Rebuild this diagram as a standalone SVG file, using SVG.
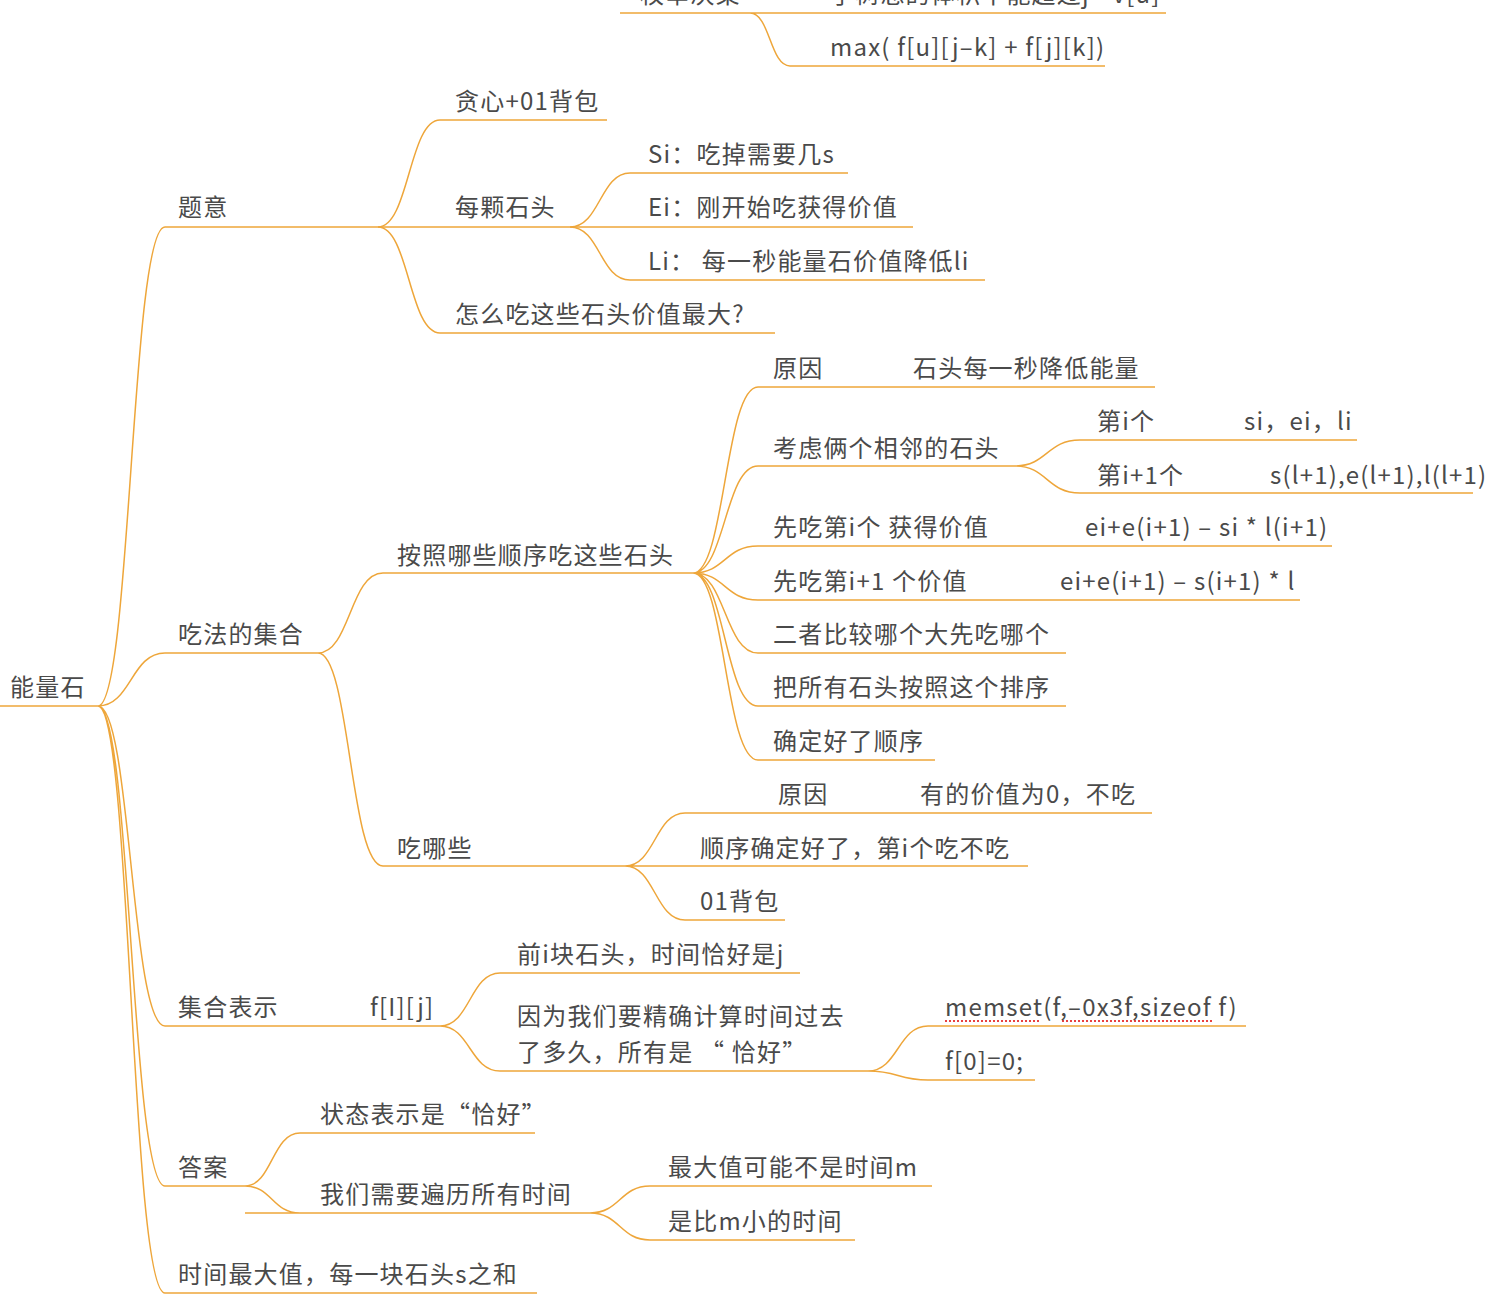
<svg xmlns="http://www.w3.org/2000/svg" width="1486" height="1316" viewBox="0 0 1486 1316">
<style>
text{font-family:"Noto Sans CJK SC","Liberation Sans",sans-serif;font-size:24px;fill:#4a4a4a;letter-spacing:1.2px}
.l{fill:none;stroke:#eea63a;stroke-width:1.5}
.r{fill:none;stroke:#e84040;stroke-width:2;stroke-dasharray:2 2}
</style>
<rect width="1486" height="1316" fill="#fff"/>
<g id="connectors">
<path class="l" d="M0 706H98" stroke-width="2.5"/>
<path class="l" d="M620 13H1166M790 66H1105M750 13C770 13 770 66 790 66"/>
<path class="l" d="M165 227H570M440 120H607M630 173H848M570 227H913M630 280H985M440 333H775"/>
<path class="l" d="M98 706C131 706 131 227 165 227M98 706C131 706 131 653 165 653M98 706C131 706 131 1026 165 1026M98 706C131 706 131 1186 165 1186M98 706C131 706 131 1293 165 1293"/>
<path class="l" d="M378 227C409 227 409 120 440 120M378 227C409 227 409 333 440 333M570 227C600 227 600 173 630 173M570 227C600 227 600 280 630 280"/>
<path class="l" d="M165 653H318M383 573H693M318 653C350 653 350 573 383 573M318 653C350 653 350 866 383 866"/>
<path class="l" d="M758 387H1155M693 573C725 573 725 387 758 387M758 466H1015M693 573C725 573 725 466 758 466M693 573C725 573 725 546 758 546M758 546H1332M693 573C725 573 725 600 758 600M758 600H1300M693 573C725 573 725 653 758 653M758 653H1066M693 573C725 573 725 706 758 706M758 706H1066M693 573C725 573 725 760 758 760M758 760H935"/>
<path class="l" d="M1080 440H1357M1080 493H1473M1015 466C1047 466 1047 440 1080 440M1015 466C1047 466 1047 493 1080 493"/>
<path class="l" d="M383 866H1028M685 813H1152M685 920H785M625 866C655 866 655 813 685 813M625 866C655 866 655 920 685 920"/>
<path class="l" d="M165 1026H440M500 973H800M500 1071H868M440 1026C470 1026 470 973 500 973M440 1026C470 1026 470 1071 500 1071M928 1026H1246M928 1080H1035M868 1071C898 1071 898 1026 928 1026M868 1071C898 1071 898 1080 928 1080"/>
<path class="l" d="M165 1186H245M300 1133H535M245 1186C272 1186 272 1133 300 1133M245 1186C272 1186 272 1213 300 1213M245 1213H590M650 1186H932M650 1240H855M590 1213C620 1213 620 1186 650 1186M590 1213C620 1213 620 1240 650 1240"/>
<path class="l" d="M165 1293H537"/>
<path class="r" d="M945 1021H1040M1062 1021H1212"/>
</g>
<g id="n-top"><text x="640" y="3">枚举决策</text><text x="830" y="3">子树总的体积不能超过j - v[u]</text><text x="830" y="56">max( f[u][j–k] + f[j][k])</text></g>
<g id="n-root"><text x="10" y="696">能量石</text></g>
<g id="n-tiyi"><text x="178" y="216">题意</text><text x="455" y="110">贪心+01背包</text><text x="455" y="216">每颗石头</text><text x="648" y="163">Si：吃掉需要几s</text><text x="648" y="216">Ei：刚开始吃获得价值</text><text x="648" y="270">Li：  每一秒能量石价值降低li</text><text x="455" y="323">怎么吃这些石头价值最大?</text></g>
<g id="n-chifa"><text x="178" y="643">吃法的集合</text><text x="397" y="564">按照哪些顺序吃这些石头</text>
<text x="773" y="377">原因</text><text x="913" y="377">石头每一秒降低能量</text>
<text x="773" y="457">考虑俩个相邻的石头</text><text x="1097" y="430">第i个</text><text x="1244" y="430">si，ei，li</text><text x="1097" y="484">第i+1个</text><text x="1270" y="484">s(l+1),e(l+1),l(l+1)</text>
<text x="773" y="536">先吃第i个 获得价值</text><text x="1085" y="536">ei+e(i+1) – si * l(i+1)</text>
<text x="773" y="590">先吃第i+1 个价值</text><text x="1060" y="590">ei+e(i+1) – s(i+1) * l</text>
<text x="773" y="643">二者比较哪个大先吃哪个</text><text x="773" y="696">把所有石头按照这个排序</text><text x="773" y="750">确定好了顺序</text>
<text x="397" y="857">吃哪些</text><text x="778" y="803">原因</text><text x="920" y="803">有的价值为0，不吃</text><text x="700" y="857">顺序确定好了，第i个吃不吃</text><text x="700" y="910">01背包</text></g>
<g id="n-jihe"><text x="178" y="1016">集合表示</text><text x="370" y="1016">f[I][j]</text><text x="517" y="963">前i块石头，时间恰好是j</text><text x="517" y="1025">因为我们要精确计算时间过去</text><text x="517" y="1061">了多久，所有是 “ 恰好”</text><text x="945" y="1016">memset(f,–0x3f,sizeof f)</text><text x="945" y="1070">f[0]=0;</text></g>
<g id="n-daan"><text x="178" y="1176">答案</text><text x="320" y="1123">状态表示是“恰好”</text><text x="320" y="1203">我们需要遍历所有时间</text><text x="668" y="1176">最大值可能不是时间m</text><text x="668" y="1230">是比m小的时间</text></g>
<g id="n-max"><text x="178" y="1283">时间最大值，每一块石头s之和</text></g>
</svg>
